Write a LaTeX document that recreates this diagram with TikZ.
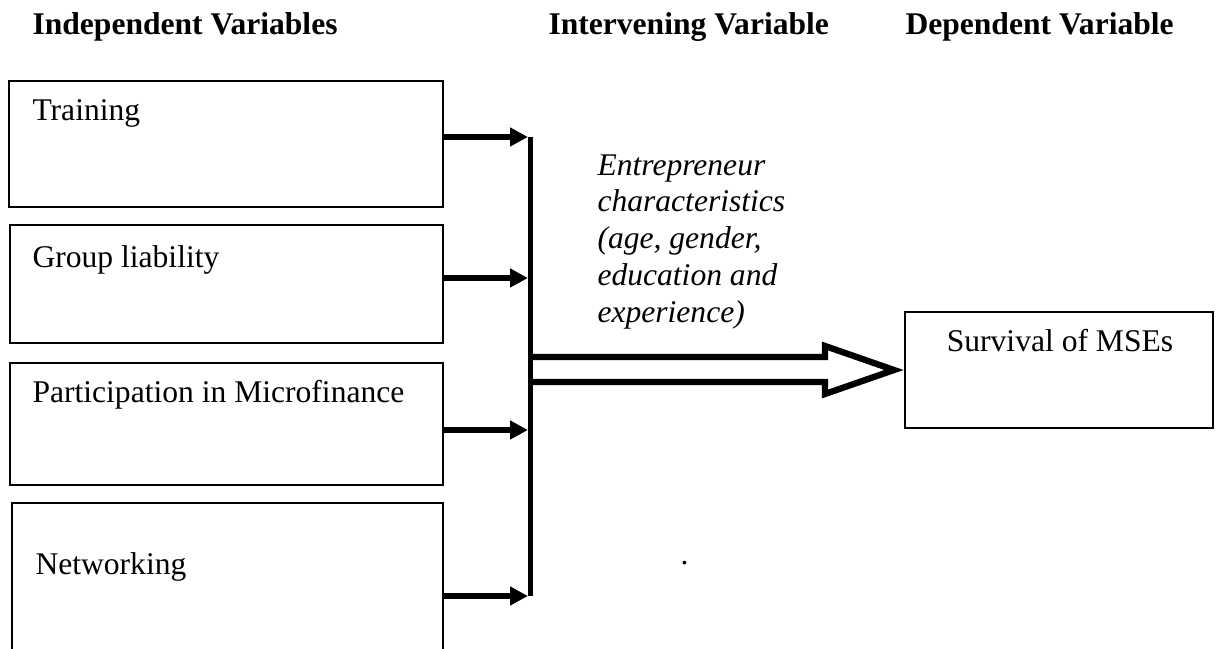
\documentclass[tikz,border=0pt]{standalone}
\usepackage{fontspec}
\setmainfont{Liberation Serif}
\usetikzlibrary{arrows.meta, fit}
\tikzset{varbox/.style={draw, line width=0.8pt, inner sep=0pt},
  boxtext/.style={anchor=base west, inner sep=0pt, font=\fontsize{12}{14}\selectfont},
  headtext/.style={anchor=base west, inner sep=0pt, font=\fontsize{12}{14}\selectfont\bfseries},
  feed/.style={line width=2.2pt, -{Triangle[length=6.8pt, width=6.8pt]}},
  bus/.style={line width=2.2pt},
  hollow/.style={line width=2.4pt, miter limit=20}}

\begin{document}
\begin{tikzpicture}[x=0.38pt, y=-0.38pt]
\useasboundingbox (0,0) rectangle (1217,649);
\clip (0,0) rectangle (1217,649);

% headings
\node[headtext] (indep) at (32,35) {Independent Variables};
\node[headtext] (interv) at (548,35) {Intervening Variable};
\node[headtext] (dep) at (905,35) {Dependent Variable};

% boxes
\node[varbox, fit={(9,81) (443,207)}] (train) {};
\node[boxtext] (traintxt) at (32,121) {Training};

\node[varbox, fit={(10,225) (443,343)}] (group) {};
\node[boxtext] (grouptxt) at (32,268) {Group liability};

\node[varbox, fit={(10,363) (443,485)}] (part) {};
\node[boxtext] (parttxt) at (32,403) {Participation in Microfinance};

\node[varbox, fit={(12,503) (443,670)}] (net) {};
\node[boxtext] (nettxt) at (35,574) {Networking};

\node[varbox, fit={(905,312) (1213,428)}] (surv) {};
\node[boxtext, anchor=base] (survtxt) at (1060,352) {Survival of MSEs};

\node[anchor=north west, inner sep=0pt, align=left,
  font=\fontsize{12}{13.95}\selectfont\itshape] (entre) at (597,154)
  {Entrepreneur\\characteristics\\(age, gender,\\education and\\experience)};

\node[boxtext] (dot) at (680,565) {.};

% edges
\coordinate (j1) at (528,137);
\coordinate (j2) at (528,278);
\coordinate (j3) at (528,430);
\coordinate (j4) at (528,596);
\draw[bus] (530.5,137) -- (530.5,596);
\draw[feed] (train.east |- j1) -- (j1);
\draw[feed] (group.east |- j2) -- (j2);
\draw[feed] (part.east |- j3) -- (j3);
\draw[feed] (net.east |- j4) -- (j4);

\coordinate (tip) at (894,370);
\draw[hollow] (530,357) -- (825,357) -- (825,346) -- (tip)
  -- (825,394) -- (825,382) -- (530,382);

\end{tikzpicture}
\end{document}
